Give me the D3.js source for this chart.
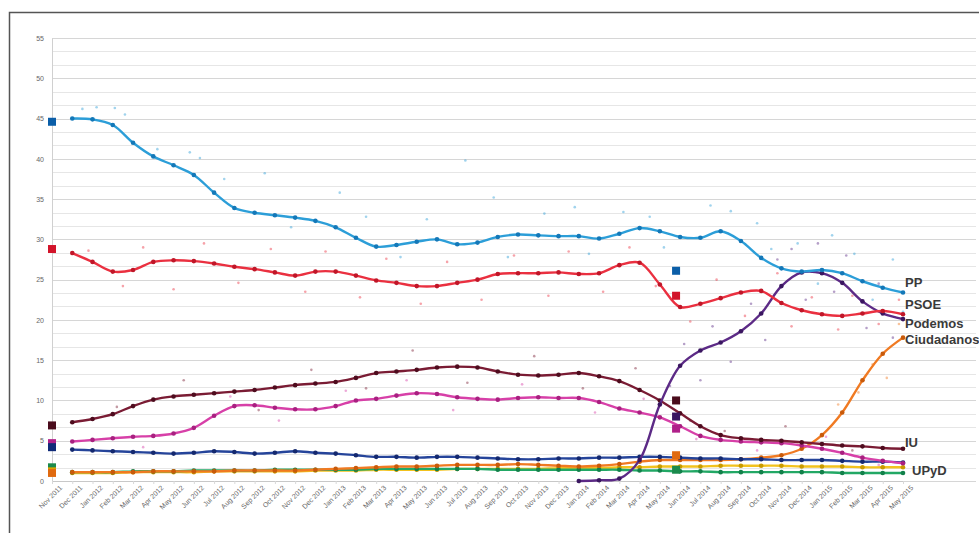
<!DOCTYPE html>
<html>
<head>
<meta charset="utf-8">
<script src="https://cdn.jsdelivr.net/npm/d3@7"></script>
<style>
  body { margin: 0; background: #fff; }
  svg { display: block; font-family: "Liberation Sans", Arial, sans-serif; }
</style>
</head>
<body>
<div id="container"></div>
<script>
// month labels, Nov 2011 .. May 2015 (index 0 .. 42)
const months = d3.timeMonth.range(new Date(2011, 10, 1), new Date(2015, 5, 1))
    .map(d3.timeFormat("%b %Y"));

// poll averages, one value per month starting at Dec 2011 (index 1)
const pp = [45.0, 44.9, 44.2, 42.0, 40.3, 39.2, 38.0, 35.8, 33.9, 33.3, 33.0, 32.7, 32.3, 31.5,
    30.2, 29.1, 29.3, 29.7, 30.0, 29.4, 29.6, 30.3, 30.6, 30.5, 30.4, 30.4, 30.1, 30.7, 31.4,
    31.0, 30.3, 30.2, 31.0, 29.8, 27.7, 26.4, 26.0, 26.2, 25.8, 24.8, 24.0, 23.4];
const psoe = [28.3, 27.2, 26.0, 26.2, 27.2, 27.4, 27.3, 27.0, 26.6, 26.3, 25.9, 25.5, 26.0, 26.0,
    25.5, 24.9, 24.6, 24.2, 24.2, 24.6, 25.0, 25.7, 25.8, 25.8, 25.9, 25.7, 25.8, 26.8, 27.1,
    24.4, 21.6, 22.0, 22.7, 23.4, 23.6, 22.1, 21.2, 20.7, 20.5, 20.8, 21.1, 20.7];
const iu = [7.3, 7.7, 8.3, 9.3, 10.1, 10.5, 10.7, 10.9, 11.1, 11.3, 11.6, 11.9, 12.1, 12.3,
    12.8, 13.4, 13.6, 13.8, 14.1, 14.2, 14.1, 13.6, 13.2, 13.1, 13.2, 13.4, 13.0, 12.4, 11.3,
    10.0, 8.4, 6.8, 5.7, 5.3, 5.1, 5.0, 4.8, 4.6, 4.4, 4.3, 4.1, 4.0];
const upyd = [4.9, 5.1, 5.3, 5.5, 5.6, 5.9, 6.6, 8.1, 9.3, 9.4, 9.1, 8.9, 8.9, 9.3,
    10.0, 10.2, 10.6, 10.9, 10.8, 10.4, 10.2, 10.1, 10.3, 10.4, 10.3, 10.3, 9.8, 9.0, 8.5,
    7.9, 6.8, 5.6, 5.1, 4.9, 4.8, 4.7, 4.4, 4.0, 3.5, 2.9, 2.5, 2.2];
const ciu = [3.9, 3.8, 3.7, 3.6, 3.5, 3.4, 3.5, 3.7, 3.6, 3.4, 3.5, 3.7, 3.5, 3.4,
    3.2, 3.0, 3.0, 2.9, 3.0, 3.0, 2.9, 2.8, 2.7, 2.7, 2.8, 2.8, 2.9, 2.9, 3.0,
    3.0, 2.9, 2.8, 2.8, 2.7, 2.7, 2.6, 2.6, 2.6, 2.5, 2.4, 2.4, 2.3];
const cs = [1.1, 1.1, 1.1, 1.1, 1.2, 1.2, 1.2, 1.2, 1.3, 1.3, 1.3, 1.3, 1.4, 1.5,
    1.6, 1.7, 1.8, 1.8, 1.9, 2.0, 2.0, 2.0, 2.1, 2.0, 1.9, 1.8, 1.9, 2.1, 2.4,
    2.6, 2.6, 2.6, 2.6, 2.7, 2.9, 3.2, 4.0, 5.7, 8.5, 12.5, 15.8, 17.8];
const erc = [1.1, 1.1, 1.1, 1.2, 1.2, 1.2, 1.3, 1.3, 1.3, 1.3, 1.4, 1.4, 1.4, 1.4,
    1.4, 1.5, 1.5, 1.5, 1.5, 1.5, 1.5, 1.4, 1.4, 1.4, 1.4, 1.4, 1.4, 1.4, 1.3,
    1.3, 1.2, 1.2, 1.1, 1.1, 1.1, 1.1, 1.1, 1.1, 1.0, 1.0, 1.0, 1.0];
const others = [1.0, 1.0, 1.0, 1.1, 1.1, 1.1, 1.1, 1.2, 1.2, 1.2, 1.2, 1.2, 1.3, 1.3,
    1.3, 1.4, 1.4, 1.4, 1.4, 1.5, 1.5, 1.5, 1.5, 1.5, 1.6, 1.6, 1.6, 1.7, 1.7,
    1.8, 1.8, 1.8, 1.9, 1.9, 1.9, 1.9, 1.8, 1.8, 1.8, 1.7, 1.7, 1.7];
// Podemos, from Jan 2014 (index 26)
const podemos = [0.0, 0.1, 0.3, 2.6, 9.5, 14.3, 16.2, 17.2, 18.6, 20.8, 24.2, 25.9, 25.8, 24.6,
    22.3, 20.8, 20.1];

// individual polls [month index, value]
const ppPolls = [[1.5, 46.2], [2.2, 46.4], [3.1, 46.3], [3.6, 45.5], [5.2, 41.2], [6.8, 40.8],
    [7.3, 40.1], [8.5, 37.5], [10.5, 38.2], [11.8, 31.5], [14.2, 35.8], [15.5, 32.8], [17.2, 27.8],
    [18.5, 32.5], [20.4, 39.8], [21.8, 35.2], [22.5, 27.8], [24.3, 33.2], [25.8, 34.0], [26.5, 28.2],
    [28.2, 33.4], [29.5, 32.8], [30.2, 29.0], [32.5, 34.2], [33.5, 33.5], [34.8, 32.0], [35.5, 28.8],
    [36.8, 29.5], [37.8, 24.5], [38.5, 30.5], [39.6, 28.2], [40.5, 22.5], [41.5, 27.5], [42.0, 21.0]];
const psoePolls = [[1.8, 28.6], [3.5, 24.2], [4.5, 29.0], [6.0, 23.8], [7.5, 29.5], [9.2, 24.6],
    [10.8, 28.8], [12.5, 23.5], [13.5, 28.5], [15.2, 22.8], [16.5, 27.6], [18.2, 22.0], [19.5, 27.2],
    [21.2, 22.5], [22.8, 28.0], [24.5, 23.0], [25.5, 28.5], [27.2, 23.5], [28.5, 29.0], [29.8, 24.2],
    [31.5, 19.8], [32.8, 25.0], [34.2, 20.5], [35.8, 25.8], [36.5, 19.2], [37.5, 22.8], [38.8, 18.8],
    [39.5, 23.0], [40.8, 19.5], [41.8, 22.5]];
const podemosPolls = [[30.5, 11.8], [31.2, 17.0], [32.0, 12.5], [32.6, 19.2], [33.5, 14.8],
    [34.5, 22.0], [35.2, 17.5], [35.8, 27.5], [36.5, 28.8], [37.2, 22.5], [37.8, 29.5], [38.6, 23.5],
    [39.2, 28.0], [40.2, 19.0], [40.8, 24.5], [41.5, 17.8]];
const iuPolls = [[3.2, 9.2], [6.5, 12.5], [10.2, 8.8], [12.8, 13.8], [15.5, 11.5], [17.8, 16.2],
    [20.5, 12.2], [23.8, 15.5], [26.2, 11.5], [28.8, 14.0], [31.5, 7.5], [33.2, 6.2], [36.2, 6.8],
    [39.5, 3.8]];
const upydPolls = [[4.5, 4.2], [8.8, 10.5], [11.2, 7.5], [14.5, 11.2], [17.5, 12.5], [19.8, 8.8],
    [23.2, 12.0], [26.8, 8.5], [29.2, 10.2], [31.8, 5.2], [34.8, 3.8], [38.2, 5.5], [40.8, 2.0]];
const csPolls = [[36.8, 4.5], [38.8, 9.5], [39.8, 11.0], [40.5, 14.5], [41.2, 12.8], [41.8, 19.5]];

// election results: general Nov 2011 (index 0), European May 2014 (index 30.8)
const generalResults = [44.6, 28.8, 6.9, 4.7, 4.2, 1.7, 1.2, 1.0];
const generalColors = ["#0b5ea8", "#d2142a", "#4a0c1c", "#b0208a", "#102a78", "#1a8a4c", "#d9a400", "#e06a10"];
const euroResults = [26.1, 23.0, 10.0, 8.0, 6.5, 3.2, 1.4];
const euroColors = ["#0b5ea8", "#d2142a", "#4a0c1c", "#3a1660", "#b0208a", "#e06a10", "#1a8a4c"];

const endLabels = ["PP", "PSOE", "Podemos", "Ciudadanos", "IU", "UPyD"];
const endLabelVals = [24.7, 21.9, 19.6, 17.6, 4.8, 1.3];

const series = [
    {data: others, start: 1, color: "#f2c21e", dot: "#c99a00"},
    {data: erc, start: 1, color: "#22a865", dot: "#12804a"},
    {data: cs, start: 1, color: "#f07a22", dot: "#c85a0a", polls: csPolls},
    {data: ciu, start: 1, color: "#25449a", dot: "#14286e"},
    {data: upyd, start: 1, color: "#d740a8", dot: "#a82080", polls: upydPolls},
    {data: iu, start: 1, color: "#7a1c34", dot: "#4e0c1e", polls: iuPolls},
    {data: podemos, start: 26, color: "#5c2a86", dot: "#3a1660", polls: podemosPolls},
    {data: psoe, start: 1, color: "#ea3040", dot: "#c01628", polls: psoePolls},
    {data: pp, start: 1, color: "#2c9ed8", dot: "#1478b8", polls: ppPolls}
];

const W = 979, H = 533;
const svg = d3.select("#container").append("svg")
    .attr("width", W).attr("height", H);

const x = d3.scaleLinear().domain([0, 42]).range([52, 903]);
const y = d3.scaleLinear().domain([0, 55]).range([481, 38]);

// gridlines (3 per 5 points)
const gridVals = d3.range(0, 55.01, 5 / 3);
svg.append("g").selectAll("line")
    .data(gridVals)
    .enter().append("line")
    .attr("x1", 52).attr("x2", 976)
    .attr("y1", d => Math.round(y(d)) + 0.5).attr("y2", d => Math.round(y(d)) + 0.5)
    .attr("stroke", (d, i) => i % 3 === 0 ? "#d6d6d6" : "#e6e6e6")
    .attr("stroke-width", 1);

// y axis
const yAxis = svg.append("g")
    .attr("transform", "translate(52,0)")
    .call(d3.axisLeft(y).tickValues(d3.range(0, 56, 5)).tickSize(0).tickPadding(8));
yAxis.select(".domain").attr("stroke", "#d0d0d0");
yAxis.selectAll("text").attr("fill", "#666").attr("font-size", 7);

// x axis
const xAxis = svg.append("g")
    .attr("transform", "translate(0,481)")
    .call(d3.axisBottom(x).tickValues(d3.range(43)).tickFormat(i => months[i]).tickSize(3));
xAxis.select(".domain").attr("stroke", "#c8c8c8");
xAxis.selectAll(".tick line").attr("stroke", "#d8d8d8");
xAxis.selectAll("text")
    .attr("fill", "#666").attr("font-size", 7)
    .attr("text-anchor", "end")
    .attr("dx", "0.3em").attr("dy", "0.9em")
    .attr("transform", "rotate(-45)");

const line = d3.line()
    .x(d => x(d[0]))
    .y(d => y(d[1]))
    .curve(d3.curveCatmullRom);

// poll scatter first, underneath the lines
series.filter(s => s.polls).forEach(s => {
    svg.append("g").selectAll("circle")
        .data(s.polls)
        .enter().append("circle")
        .attr("cx", d => x(d[0]))
        .attr("cy", d => y(d[1]))
        .attr("r", 1.3)
        .attr("fill", s.color)
        .attr("opacity", 0.45);
});

series.forEach(s => {
    const pts = s.data.map((v, i) => [s.start + i, v]);
    const g = svg.append("g");
    g.append("path")
        .attr("d", line(pts))
        .attr("fill", "none")
        .attr("stroke", s.color)
        .attr("stroke-width", 2.4);
    g.selectAll("circle")
        .data(pts)
        .enter().append("circle")
        .attr("cx", d => x(d[0]))
        .attr("cy", d => y(d[1]))
        .attr("r", 2.3)
        .attr("fill", s.dot);
});

// election markers
function squares(vals, colors, idx) {
    svg.append("g").selectAll("rect")
        .data(vals)
        .enter().append("rect")
        .attr("x", x(idx) - 4)
        .attr("y", d => y(d) - 4)
        .attr("width", 8).attr("height", 8)
        .attr("fill", (d, i) => colors[i]);
}
squares(generalResults, generalColors, 0);
squares(euroResults, euroColors, 30.8);

// end labels
svg.append("g").selectAll("text")
    .data(endLabels)
    .enter().append("text")
    .attr("x", (d, i) => i === 5 ? 912 : 905)
    .attr("y", (d, i) => y(endLabelVals[i]))
    .attr("dy", "0.35em")
    .attr("font-size", 13)
    .attr("font-weight", "bold")
    .attr("fill", "#3a3a3a")
    .text(d => d);

// frame
svg.append("rect")
    .attr("x", 9.5).attr("y", 12.5)
    .attr("width", 990).attr("height", 540)
    .attr("fill", "none")
    .attr("stroke", "#555")
    .attr("stroke-width", 1.5);
</script>
</body>
</html>
